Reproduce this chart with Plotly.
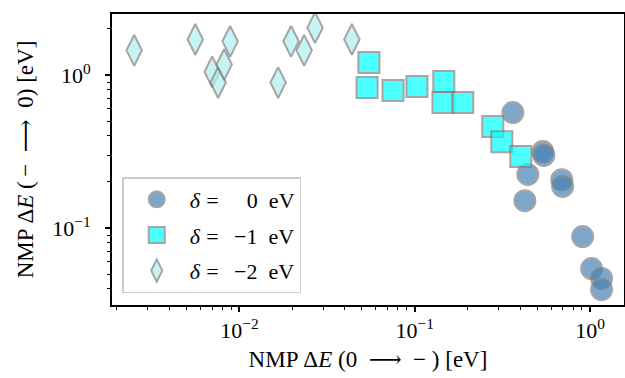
import plotly.graph_objects as go

# δ = 0 eV (circles)
x_d0 = [0.363, 0.538, 0.545, 0.442, 0.690, 0.698, 0.425, 0.908, 1.021, 1.164, 1.164]
y_d0 = [0.569, 0.316, 0.298, 0.224, 0.207, 0.187, 0.151, 0.0880, 0.0543, 0.0468, 0.0396]

# δ = -1 eV (squares)
x_d1 = [0.0548, 0.0535, 0.0752, 0.103, 0.1466, 0.1449, 0.188, 0.279, 0.314, 0.403]
y_d1 = [1.21, 0.829, 0.792, 0.841, 0.907, 0.661, 0.661, 0.461, 0.367, 0.293]

# δ = -2 eV (thin diamonds)
x_d2 = [0.00251, 0.00560, 0.00699, 0.00756, 0.00818, 0.00885, 0.01663, 0.0197, 0.0234, 0.0270, 0.0438]
y_d2 = [1.45, 1.71, 1.05, 0.893, 1.17, 1.66, 0.893, 1.66, 1.45, 2.04, 1.71]

names = ["<i>δ</i>\u2009\u200a=\u2002\u2009\u2007\u200a0\u2002eV",
         "<i>δ</i>\u2009\u200a=\u2002\u2009−1\u2002eV",
         "<i>δ</i>\u2009\u200a=\u2002\u2009−2\u2002eV"]

X_RANGE = [-2.727, 0.194]   # log10 limits
Y_RANGE = [-1.503, 0.399]

FONT = "Liberation Serif, DejaVu Serif, serif"
FS = 22
FT = 23
edge = dict(color="#808080", width=2)

fig = go.Figure()
fig.add_trace(go.Scatter(x=x_d0, y=y_d0, mode="markers", name=names[0], legendgroup="a",
                         marker=dict(symbol="circle", size=21, color="steelblue", opacity=0.7, line=edge)))
fig.add_trace(go.Scatter(x=x_d1, y=y_d1, mode="markers", name=names[1], legendgroup="b",
                         marker=dict(symbol="square", size=21, color="cyan", opacity=0.7, line=edge)))
fig.add_trace(go.Scatter(x=x_d2, y=y_d2, mode="markers", name=names[2], legendgroup="c",
                         marker=dict(symbol="diamond-tall", size=22, color="paleturquoise", opacity=0.7, line=edge)))

def minor_vals(rng):
    lo, hi = 10 ** rng[0], 10 ** rng[1]
    out = []
    for e in range(-4, 2):
        for m in range(2, 10):
            v = m * 10.0 ** e
            if lo <= v <= hi:
                out.append(v)
    return out

axis_common = dict(
    type="log", showline=True, linecolor="black", linewidth=1.8, mirror=True,
    ticks="outside", ticklen=5, tickwidth=1.5, tickcolor="black",
    showgrid=False, zeroline=False, automargin=False,
    tickfont=dict(family=FONT, size=FS, color="black"),
)

fig.update_xaxes(**axis_common, range=X_RANGE,
                 tickvals=[0.01, 0.1, 1], ticktext=["10<sup>−2</sup>", "10<sup>−1</sup>", "10<sup>0</sup>"],
                 minor=dict(tickvals=minor_vals(X_RANGE), ticks="outside", ticklen=3, tickwidth=1.1, tickcolor="black"),
                 title=dict(text="NMP Δ<i>E</i> (0\u2002⟶\u2002− ) [eV]", font=dict(family=FONT, size=FT, color="black"), standoff=9))
fig.update_yaxes(**axis_common, range=Y_RANGE,
                 tickvals=[0.1, 1], ticktext=["10<sup>−1</sup>", "10<sup>0</sup>"],
                 ticklabelstandoff=10,
                 minor=dict(tickvals=minor_vals(Y_RANGE), ticks="outside", ticklen=3, tickwidth=1.1, tickcolor="black"),
                 title=dict(text="NMP Δ<i>E</i> (\u2009−\u2002⟶\u20020) [eV]", font=dict(family=FONT, size=FT, color="black"), standoff=12))

fig.update_layout(
    width=625, height=378,
    margin=dict(l=112, r=1, t=14, b=73, autoexpand=False),
    paper_bgcolor="white", plot_bgcolor="white",
    showlegend=True,
    legend=dict(x=0.02, y=0.041, xanchor="left", yanchor="bottom",
                bgcolor="rgba(255,255,255,0.8)", bordercolor="#cccccc", borderwidth=1.5,
                font=dict(family=FONT, size=FS, color="black"),
                tracegroupgap=4, itemsizing="trace", itemwidth=56),
)

fig.write_html("out.html")
